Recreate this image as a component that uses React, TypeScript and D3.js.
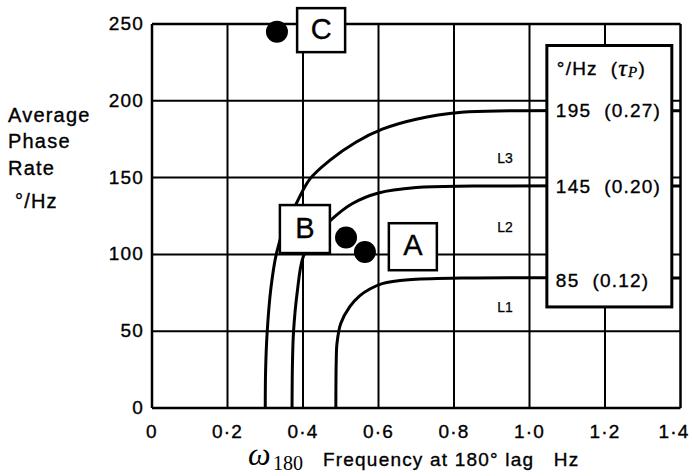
import React from "react";
import * as d3 from "d3";

const xTicks = [0, 0.2, 0.4, 0.6, 0.8, 1.0, 1.2, 1.4];
const xTickLabels = ["0", "0·2", "0·4", "0·6", "0·8", "1·0", "1·2", "1·4"];
const yTicks = [0, 50, 100, 150, 200, 250];

// Boundary curves (frequency Hz, phase rate °/Hz)
const curveL3: [number, number][] = [
  [0.3, 0], [0.301, 25], [0.305, 49], [0.315, 78], [0.33, 101], [0.35, 117], [0.38, 132],
  [0.418, 149], [0.47, 161], [0.54, 173], [0.61, 181.5], [0.7, 188], [0.82, 192.5], [0.95, 193.5], [1.4, 193.5],
];
const curveL2: [number, number][] = [
  [0.371, 0], [0.372, 28], [0.375, 50], [0.385, 76], [0.4, 98], [0.43, 111], [0.472, 122],
  [0.53, 133], [0.6, 140], [0.7, 143.5], [0.85, 144.5], [1.4, 144.5],
];
const curveL1: [number, number][] = [
  [0.487, 0], [0.488, 30], [0.49, 42], [0.5, 55], [0.524, 66], [0.55, 73], [0.577, 77.5],
  [0.61, 81], [0.68, 83.5], [0.82, 84.6], [1.4, 84.6],
];
const curves = [curveL1, curveL2, curveL3];

const levelLabels = ["L1", "L2", "L3"];
const levelLabelX = [0.935, 0.935, 0.935];
const levelLabelY = [65, 117, 162];

const legendRates = [195, 145, 85];
const legendTau = ["0.27", "0.20", "0.12"];
const legendY = [194, 144.5, 83.5];

const dotX = [0.331, 0.514, 0.564];
const dotY = [245, 111, 101.5];

const boxLetters = ["A", "B", "C"];
const boxX = [0.691, 0.405, 0.448];
const boxY = [105, 116.5, 246];
const boxW = [48, 50, 48];
const boxH = [47, 48, 44];

const W = 692;
const H = 476;

export default function App() {
  const x = d3.scaleLinear().domain([0, 1.4]).range([152, 680.5]);
  const y = d3.scaleLinear().domain([0, 250]).range([408, 24]);
  const line = d3
    .line<[number, number]>()
    .x((d) => x(d[0]))
    .y((d) => y(d[1]))
    .curve(d3.curveCatmullRom.alpha(0.5));

  const font = "'Liberation Sans', Arial, Helvetica, sans-serif";
  const serif = "'Liberation Serif', 'Times New Roman', serif";
  const ls = 1.2;
  const ts = { stroke: "#000", strokeWidth: 0.35 };

  // legend box in data coords
  const lbX0 = x(1.046);
  const lbX1 = x(1.377);
  const lbY0 = y(236);
  const lbY1 = y(65.8);

  return (
    <div style={{ position: "absolute", left: 0, top: 0 }}>
      <svg width={W} height={H} style={{ display: "block", background: "#fff" }} fontFamily={font}>
        <rect x={0} y={0} width={W} height={H} fill="#fff" />
        {/* grid */}
        {xTicks.map((t, i) => (
          <line key={"gx" + i} x1={x(t)} x2={x(t)} y1={y(0)} y2={y(250)} stroke="#000" strokeWidth={i === 0 || i === xTicks.length - 1 ? 2.5 : 2} />
        ))}
        {yTicks.map((t, i) => (
          <line key={"gy" + i} x1={x(0)} x2={x(1.4)} y1={y(t)} y2={y(t)} stroke="#000" strokeWidth={i === 0 || i === yTicks.length - 1 ? 2.5 : 2} />
        ))}
        {/* curves */}
        {curves.map((c, i) => (
          <path key={"c" + i} d={line(c) || ""} fill="none" stroke="#000" strokeWidth={3} />
        ))}
        {/* level labels */}
        {levelLabels.map((l, i) => (
          <text key={"l" + i} x={x(levelLabelX[i])} y={y(levelLabelY[i])} fontSize={14} textAnchor="middle" dominantBaseline="middle" {...ts} strokeWidth={0.25}>
            {l}
          </text>
        ))}
        {/* dots */}
        {dotX.map((dx, i) => (
          <circle key={"d" + i} cx={x(dx)} cy={y(dotY[i])} r={11} fill="#000" />
        ))}
        {/* letter boxes */}
        {boxLetters.map((b, i) => (
          <g key={"b" + i}>
            <rect
              x={x(boxX[i]) - boxW[i] / 2}
              y={y(boxY[i]) - boxH[i] / 2}
              width={boxW[i]}
              height={boxH[i]}
              fill="#fff"
              stroke="#000"
              strokeWidth={2.5}
            />
            <text x={x(boxX[i])} y={y(boxY[i]) + 1} fontSize={29} textAnchor="middle" dominantBaseline="middle" {...ts}>
              {b}
            </text>
          </g>
        ))}
        {/* legend box */}
        <rect x={lbX0} y={lbY0} width={lbX1 - lbX0} height={lbY1 - lbY0} fill="#fff" stroke="#000" strokeWidth={3} />
        <text x={lbX0 + 10} y={y(220)} fontSize={19} letterSpacing={ls} dominantBaseline="middle" {...ts}>
          °/Hz{"\u00a0"}{"\u00a0"}(
          <tspan fontFamily={serif} fontStyle="italic" fontSize={24}>τ</tspan>
          <tspan fontFamily={serif} fontStyle="italic" fontSize={15} dy={4}>P</tspan>
          <tspan dy={-4}>)</tspan>
        </text>
        {legendRates.map((r, i) => (
          <text key={"lr" + i} x={lbX0 + 9} y={y(legendY[i]) + 2} fontSize={19} letterSpacing={ls} dominantBaseline="middle" {...ts}>
            {r}{"\u00a0\u00a0"}({legendTau[i]})
          </text>
        ))}
        {/* y tick labels */}
        {yTicks.map((t, i) => (
          <text key={"yt" + i} x={144} y={y(t) + 1} fontSize={19} letterSpacing={ls} textAnchor="end" dominantBaseline="middle" {...ts}>
            {t}
          </text>
        ))}
        {/* x tick labels */}
        {xTicks.map((t, i) => (
          <text
            key={"xt" + i}
            x={Math.min(x(t), 674)}
            y={433}
            fontSize={19}
            letterSpacing={ls}
            textAnchor="middle"
            dominantBaseline="middle"
            {...ts}
          >
            {xTickLabels[i]}
          </text>
        ))}
        {/* y axis title */}
        <text x={8} y={117} fontSize={20} letterSpacing={ls} dominantBaseline="middle" {...ts}>Average</text>
        <text x={8} y={143} fontSize={20} letterSpacing={ls} dominantBaseline="middle" {...ts}>Phase</text>
        <text x={8} y={170} fontSize={20} letterSpacing={ls} dominantBaseline="middle" {...ts}>Rate</text>
        <text x={15} y={203} fontSize={20} letterSpacing={ls} dominantBaseline="middle" {...ts}>°/Hz</text>
        {/* x axis title */}
        <text x={248} y={465} fontSize={32} fontFamily={serif} fontStyle="italic">ω</text>
        <text x={273} y={470} fontSize={20} fontFamily={serif}>180</text>
        <text x={323} y={466} fontSize={19} letterSpacing={ls} {...ts}>
          Frequency at 180° lag{"\u00a0\u00a0\u00a0"}Hz
        </text>
      </svg>
    </div>
  );
}
